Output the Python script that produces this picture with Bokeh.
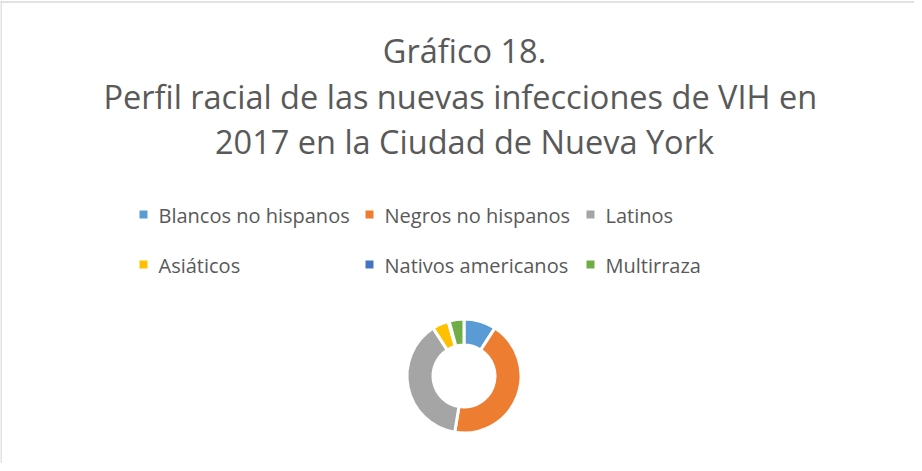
from bokeh.plotting import figure
from bokeh.models import Range1d, Span, ColumnDataSource
from bokeh.core.properties import value
from bokeh.embed import file_html
from bokeh.resources import INLINE
import math

# ---- data ----
categories = ["Blancos no hispanos", "Negros no hispanos", "Latinos",
              "Asiáticos", "Nativos americanos", "Multirraza"]
shares = [9.1, 43.5, 38.3, 4.6, 0.3, 4.2]
colors = ["#5B9BD5", "#ED7D31", "#A5A5A5", "#FFC000", "#4472C4", "#70AD47"]
title_lines = ["Gráfico 18.",
               "Perfil racial de las  nuevas infecciones de VIH en",
               "2017 en la Ciudad de Nueva York"]

W, H = 914, 463
FONT = "Open Sans"
TXT = "#595959"

p = figure(width=W, height=H, output_backend="svg", toolbar_location=None,
           x_range=Range1d(0, W), y_range=Range1d(0, H), min_border=0,
           outline_line_color=None, background_fill_color="white",
           border_fill_color="white")
p.axis.visible = False
p.grid.visible = False

# chart frame (left and top edges visible in the reference crop)
p.add_layout(Span(location=0.5, dimension="height", line_color="#d9d9d9", line_width=1.5))
p.add_layout(Span(location=H - 1.5, dimension="width", line_color="#d9d9d9", line_width=1.5))

def fy(page_y):
    return H - (page_y - 8)

def fx(page_x):
    return page_x - 8

# ---- title ----
title_base = [58, 104, 149]
p.text(x=[fx(472)] * 3, y=[fy(b) for b in title_base], text=title_lines,
       text_font=value(FONT), text_font_size="32.5px", text_color=TXT,
       text_align="center", text_baseline="alphabetic")

# ---- legend ----
col_sq = [151, 377, 598]
row_y = [222, 272]
lx, ly, lt = [], [], []
for i, c in enumerate(categories):
    r, k = divmod(i, 3)
    lx.append(fx(col_sq[k]))
    ly.append(fy(row_y[r]))
    lt.append(c)
p.scatter(x=lx, y=ly, marker="square", size=8, fill_color=colors, line_color=None)
p.text(x=[v + 15 for v in lx], y=[v - 0.5 for v in ly], text=lt,
       text_font=value(FONT), text_font_size="20px", text_color=TXT,
       text_align="left", text_baseline="middle")

# ---- donut ----
total = sum(shares)
starts, ends = [], []
acc = 0.0
for s in shares:
    starts.append(math.pi / 2 - 2 * math.pi * acc / total)
    acc += s
    ends.append(math.pi / 2 - 2 * math.pi * acc / total)
src = ColumnDataSource(dict(start=starts, end=ends, color=colors, cat=categories))
p.annular_wedge(x=fx(471.5), y=fy(383.5), inner_radius=31, outer_radius=57,
                start_angle="start", end_angle="end", direction="clock",
                fill_color="color", line_color="white", line_width=3, source=src)

open("out.html", "w").write(file_html(p, INLINE))
